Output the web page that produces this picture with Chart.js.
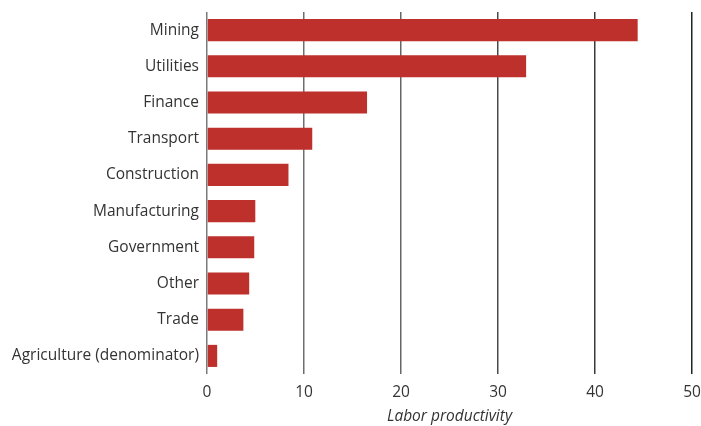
<!DOCTYPE html>
<html>
<head>
<meta charset="utf-8">
<script src="https://cdn.jsdelivr.net/npm/chart.js@4/dist/chart.umd.min.js"></script>
<style>
  html, body { margin: 0; padding: 0; background: #fff; }
  #wrap { width: 701px; height: 426px; position: relative; }
</style>
</head>
<body>
<div id="wrap"><canvas id="c"></canvas></div>
<script>
const categories = ["Mining", "Utilities", "Finance", "Transport", "Construction", "Manufacturing", "Government", "Other", "Trade", "Agriculture (denominator)"];
const productivity = [44.4, 32.9, 16.5, 10.85, 8.4, 4.98, 4.87, 4.35, 3.75, 1.05];
const xTicks = [0, 10, 20, 30, 40, 50];
const axisTitle = "Labor productivity";

const FONT = "'Open Sans', 'DejaVu Sans', sans-serif";
const TEXT = "#333333";

new Chart(document.getElementById('c'), {
  type: 'bar',
  data: {
    labels: categories,
    datasets: [{
      data: productivity,
      backgroundColor: '#BE302C',
      borderWidth: 0,
      barPercentage: 0.61,
      categoryPercentage: 1.0
    }]
  },
  options: {
    indexAxis: 'y',
    responsive: true,
    maintainAspectRatio: false,
    animation: false,
    layout: { padding: { top: 12, right: 9, bottom: 0, left: 0 } },
    plugins: { legend: { display: false }, tooltip: { enabled: false } },
    scales: {
      x: {
        min: 0, max: 50,
        afterBuildTicks: (s) => { s.ticks = xTicks.map(v => ({ value: v })); },
        grid: {
          color: (ctx) => ['#7a7a7a', '#6e6e6e', '#666666', '#4a4a4a', '#3a3a3a', '#222222'][ctx.index] || '#555',
          lineWidth: 1.5,
          drawTicks: false
        },
        border: { display: false },
        ticks: { color: TEXT, font: { family: FONT, size: 15.5 }, padding: 9 },
        title: {
          display: true, text: axisTitle, color: TEXT,
          font: { family: FONT, size: 15.5, style: 'italic' },
          padding: { top: 3, bottom: 0 }
        },
        afterFit: (s) => { s.height = 52; s.paddingLeft = 0; s.paddingRight = 0; }
      },
      y: {
        grid: { display: false, drawTicks: false },
        border: { display: false },
        ticks: { color: TEXT, font: { family: FONT, size: 15.5 }, padding: 8 },
        afterFit: (s) => { s.width = 207; s.paddingTop = 0; s.paddingBottom = 0; }
      }
    }
  }
});
</script>
</body>
</html>
